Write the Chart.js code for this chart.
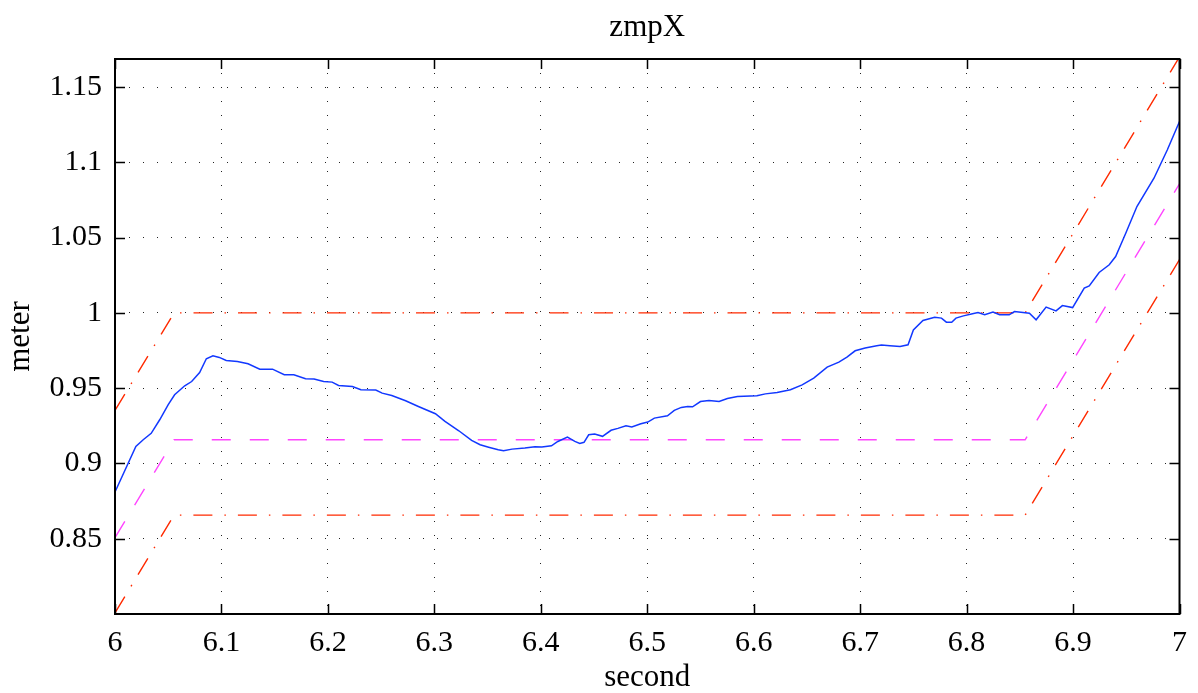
<!DOCTYPE html>
<html>
<head>
<meta charset="utf-8">
<script src="https://cdn.jsdelivr.net/npm/chart.js@4.4.1/dist/chart.umd.min.js"></script>
<style>
  html, body { margin: 0; padding: 0; background: #fff; overflow: hidden; }
  #wrap { width: 1198px; height: 693px; }
  #zmp { display: block; }
</style>
</head>
<body>
<div id="wrap"><canvas id="zmp" width="1198" height="693"></canvas></div>
<script>
// measured zmp x (second / meter)
const zmpTime = [6.000, 6.0196, 6.0265, 6.034, 6.042, 6.050, 6.056, 6.0655, 6.072, 6.0795,
  6.0858, 6.092, 6.098, 6.1045, 6.115, 6.125, 6.136, 6.148, 6.159, 6.168,
  6.179, 6.187, 6.196, 6.204, 6.21, 6.223, 6.231, 6.245, 6.251, 6.260,
  6.273, 6.285, 6.301, 6.310, 6.323, 6.335, 6.343, 6.351, 6.360, 6.365,
  6.373, 6.385, 6.3945, 6.401, 6.410, 6.416, 6.425, 6.432, 6.4366, 6.4406,
  6.445, 6.4506, 6.458, 6.466, 6.4724, 6.480, 6.4855, 6.494, 6.5005, 6.5067,
  6.519, 6.5254, 6.532, 6.538, 6.5426, 6.550, 6.558, 6.5675, 6.5753, 6.5847,
  6.603, 6.611, 6.622, 6.6345, 6.6455, 6.6564, 6.669, 6.680, 6.6876, 6.6953,
  6.7047, 6.7156, 6.720, 6.728, 6.7375, 6.745, 6.750, 6.759, 6.770, 6.7764,
  6.781, 6.786, 6.790, 6.797, 6.8045, 6.8107, 6.817, 6.8248, 6.831, 6.840,
  6.845, 6.859, 6.8653, 6.8747, 6.884, 6.890, 6.8996, 6.9105, 6.9152, 6.9245,
  6.934, 6.940, 6.9495, 6.960, 6.976, 6.9885, 7.0];
const zmpValue = [0.881, 0.9113, 0.9157, 0.920, 0.929, 0.939, 0.9456, 0.9516, 0.9544, 0.9604,
  0.9695, 0.9715, 0.9704, 0.9684, 0.9677, 0.9662, 0.9626, 0.9626, 0.9589, 0.9589,
  0.9562, 0.956, 0.9544, 0.954, 0.9518, 0.9511, 0.9489, 0.9487, 0.9467, 0.9451,
  0.9416, 0.9378, 0.933, 0.9279, 0.9217, 0.9153, 0.9124, 0.9108, 0.9091, 0.9084,
  0.9095, 0.9102, 0.911, 0.9109, 0.9117, 0.9146, 0.9175, 0.9146, 0.9133, 0.914,
  0.919, 0.9195, 0.918, 0.922, 0.9233, 0.925, 0.9242, 0.9263, 0.9275, 0.9301,
  0.9316, 0.9352, 0.9372, 0.9378, 0.9376, 0.9411, 0.9418, 0.9411, 0.9431, 0.9445,
  0.9449, 0.9462, 0.9471, 0.9489, 0.9522, 0.9567, 0.964, 0.9673, 0.9706, 0.9748,
  0.9766, 0.9781, 0.9786, 0.9781, 0.9776, 0.9788, 0.9887, 0.9949, 0.9971, 0.9965,
  0.9938, 0.9938, 0.9965, 0.998, 0.9993, 1.0002, 0.9987, 1.0005, 0.9987, 0.9987,
  1.0009, 0.9998, 0.9954, 1.0038, 1.0013, 1.0048, 1.0035, 1.0164, 1.0179, 1.0268,
  1.0319, 1.0374, 1.0529, 1.0706, 1.0894, 1.1082, 1.127];

// reference / support polygon bounds
const refTime  = [6.0, 6.0555, 6.855, 7.0];
const upperLim = [0.9352, 1.0, 1.0, 1.17];
const refZmp   = [0.8507, 0.9157, 0.9157, 1.0857];
const lowerLim = [0.8008, 0.8657, 0.8657, 1.0354];

const xTicks = [6, 6.1, 6.2, 6.3, 6.4, 6.5, 6.6, 6.7, 6.8, 6.9, 7];
const yTicks = [0.85, 0.9, 0.95, 1, 1.05, 1.1, 1.15];

const pts = (xs, ys) => xs.map((x, i) => ({x: x, y: ys[i]}));
const serif = "'Liberation Serif', 'DejaVu Serif', serif";

// box around the axes and inward tick marks, matlab style
const frame = {
  id: 'frame',
  afterDraw(chart) {
    const ctx = chart.ctx, a = chart.chartArea;
    const xs = chart.scales.x, ys = chart.scales.y;
    ctx.save();
    ctx.strokeStyle = '#000';
    ctx.lineWidth = 1.5;
    ctx.beginPath();
    xTicks.forEach(v => {
      const px = Math.round(xs.getPixelForValue(v)) + 0.5;
      ctx.moveTo(px, a.bottom); ctx.lineTo(px, a.bottom - 10);
      ctx.moveTo(px, a.top); ctx.lineTo(px, a.top + 10);
    });
    yTicks.forEach(v => {
      const py = Math.round(ys.getPixelForValue(v)) + 0.5;
      ctx.moveTo(a.left, py); ctx.lineTo(a.left + 10, py);
      ctx.moveTo(a.right, py); ctx.lineTo(a.right - 10, py);
    });
    ctx.stroke();
    ctx.lineWidth = 2;
    ctx.strokeRect(a.left, a.top, a.right - a.left, a.bottom - a.top);
    ctx.restore();
  }
};

new Chart(document.getElementById('zmp'), {
  type: 'line',
  data: {
    datasets: [
      { data: pts(zmpTime, zmpValue), borderColor: '#1238ff', borderWidth: 1.5 },
      { data: pts(refTime, upperLim), borderColor: '#ff2a00', borderWidth: 1.4, borderDash: [19, 12, 1.5, 12] },
      { data: pts(refTime, refZmp), borderColor: '#ff44ff', borderWidth: 1.4, borderDash: [19, 19] },
      { data: pts(refTime, lowerLim), borderColor: '#ff2a00', borderWidth: 1.4, borderDash: [19, 12, 1.5, 12] }
    ]
  },
  options: {
    responsive: false,
    animation: false,
    elements: { point: { radius: 0 }, line: { tension: 0, fill: false } },
    layout: { autoPadding: false, padding: { left: 0, right: 14, top: 0, bottom: 0 } },
    plugins: {
      legend: { display: false },
      tooltip: { enabled: false },
      title: { display: false }
    },
    scales: {
      // top axis only carries the plot title, centred over the axes box
      top: {
        type: 'linear', position: 'top', min: 6, max: 7,
        afterFit: s => { s.height = 59; },
        ticks: { display: false },
        grid: { display: false, drawTicks: false },
        border: { display: false },
        title: {
          display: true, text: 'zmpX', color: '#000',
          font: { family: serif, size: 31 },
          padding: { top: 9, bottom: 0 }
        }
      },
      x: {
        type: 'linear', min: 6, max: 7,
        afterBuildTicks: s => { s.ticks = xTicks.map(v => ({value: v})); },
        afterFit: s => { s.height = 79; },
        ticks: {
          color: '#000', padding: 11, maxRotation: 0,
          font: { family: serif, size: 30 },
          callback: v => String(+v.toFixed(1))
        },
        grid: { color: '#222', lineWidth: 1, drawTicks: false },
        border: { display: false, dash: [1, 13] },
        title: {
          display: true, text: 'second', color: '#000',
          font: { family: serif, size: 31 },
          padding: { top: 0, bottom: -3 }
        }
      },
      y: {
        type: 'linear', min: 0.8, max: 1.1686,
        afterBuildTicks: s => { s.ticks = yTicks.map(v => ({value: v})); },
        afterFit: s => { s.width = 115; },
        ticks: {
          color: '#000', padding: 13,
          font: { family: serif, size: 30 },
          callback: v => String(+v.toFixed(2))
        },
        grid: { color: '#222', lineWidth: 1, drawTicks: false },
        border: { display: false, dash: [1, 13] },
        title: {
          display: true, text: 'meter', color: '#000',
          font: { family: serif, size: 31 },
          padding: { top: 2, bottom: 0 }
        }
      }
    }
  },
  plugins: [frame]
});
</script>
</body>
</html>
